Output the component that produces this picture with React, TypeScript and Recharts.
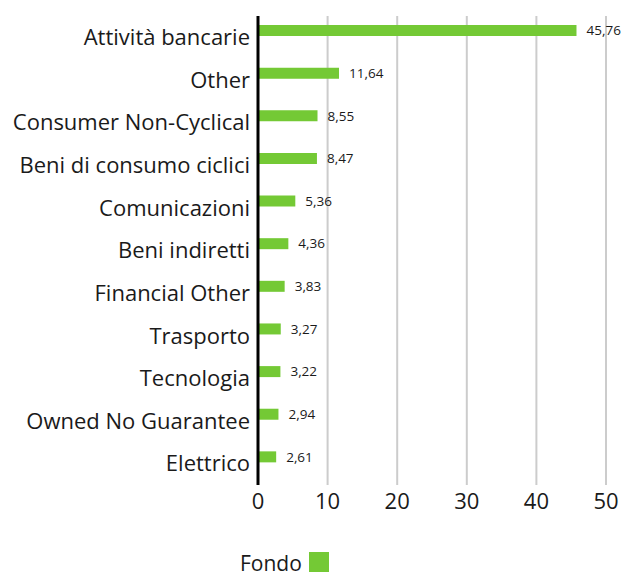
import { BarChart, Bar, XAxis, YAxis, CartesianGrid, Legend, LabelList } from 'recharts';

const categories = [
  'Attività bancarie',
  'Other',
  'Consumer Non-Cyclical',
  'Beni di consumo ciclici',
  'Comunicazioni',
  'Beni indiretti',
  'Financial Other',
  'Trasporto',
  'Tecnologia',
  'Owned No Guarantee',
  'Elettrico',
];
const fondo = [45.76, 11.64, 8.55, 8.47, 5.36, 4.36, 3.83, 3.27, 3.22, 2.94, 2.61];
const xTicks = [0, 10, 20, 30, 40, 50];

const GREEN = '#74c935';
const FONT = '"Open Sans", sans-serif';

const data = categories.map((name, i) => ({ name, fondo: fondo[i] }));

const fmt = (v: any) => (typeof v === 'number' ? v.toFixed(2).replace('.', ',') : '');

function FondoLegend() {
  return (
    <div style={{ display: 'flex', alignItems: 'flex-end', height: 48, marginLeft: 240, fontFamily: FONT }}>
      <span style={{ fontSize: 21, color: '#1a1a1a', lineHeight: '22px' }}>Fondo</span>
      <span style={{ width: 20, height: 20, background: GREEN, marginLeft: 7, marginBottom: 2 }} />
    </div>
  );
}

export default function App() {
  return (
    <div style={{ position: 'absolute', left: 0, top: 0, background: '#fff' }}>
      <BarChart
        width={624}
        height={576}
        data={data}
        layout="vertical"
        margin={{ top: 16, right: 18, bottom: 2, left: 0 }}
        barGap={2}
        barCategoryGap={0}
      >
        <CartesianGrid horizontal={false} vertical stroke="#cccccc" strokeWidth={2} />
        <XAxis
          type="number"
          domain={[0, 50]}
          ticks={xTicks}
          axisLine={false}
          tickLine={false}
          height={41}
          tick={{ fontSize: 22, fill: '#1a1a1a', fontFamily: FONT }}
        />
        <YAxis
          type="category"
          dataKey="name"
          width={258}
          axisLine={{ stroke: '#000', strokeWidth: 3 }}
          tickLine={false}
          interval={0}
          tick={{ fontSize: 22, fill: '#1a1a1a', fontFamily: FONT }}
        />
        <Legend verticalAlign="bottom" height={48} content={() => <FondoLegend />} />
        <Bar dataKey="fondo" name="Fondo" fill={GREEN} barSize={11} isAnimationActive={false}>
          <LabelList
            dataKey="fondo"
            position="right"
            offset={10}
            formatter={fmt}
            style={{ fontSize: 13.5, fill: '#1a1a1a', fontFamily: FONT }}
          />
        </Bar>
        <Bar dataKey="benchmark" fill="none" barSize={11} legendType="none" isAnimationActive={false} />
      </BarChart>
    </div>
  );
}
